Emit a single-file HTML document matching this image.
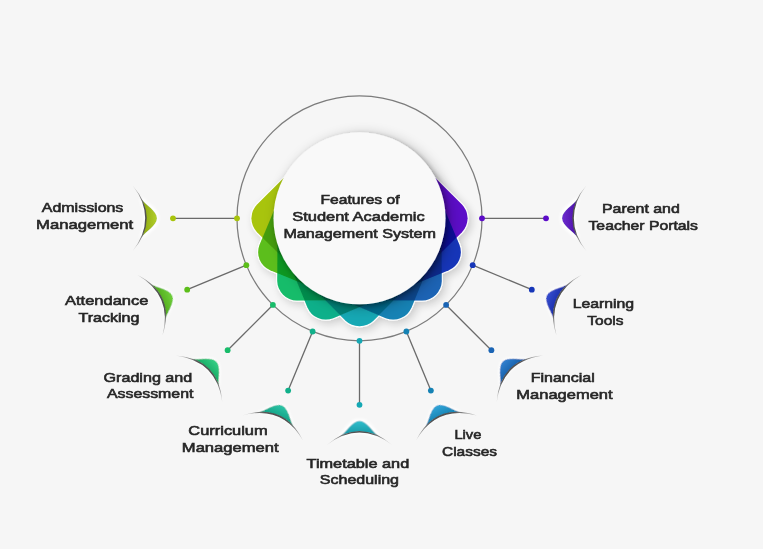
<!DOCTYPE html>
<html><head><meta charset="utf-8"><style>
html,body{margin:0;padding:0;background:#f6f6f6;}
svg{display:block;will-change:transform;filter:blur(0.35px);}
text{font-family:"Liberation Sans",sans-serif;font-weight:normal;font-size:13.3px;fill:#262626;stroke:#262626;stroke-width:0.6px;}
</style></head><body>
<svg width="763" height="549" viewBox="0 0 763 549">
<defs><filter id="sh" x="-30%" y="-30%" width="160%" height="160%"><feGaussianBlur in="SourceAlpha" stdDeviation="2.5" result="b1"/><feOffset in="b1" dx="1.8" dy="1.8" result="o1"/><feComponentTransfer in="o1" result="s1"><feFuncA type="linear" slope="0.32"/></feComponentTransfer><feGaussianBlur in="SourceAlpha" stdDeviation="7" result="b2"/><feOffset in="b2" dx="4" dy="3" result="o2"/><feComponentTransfer in="o2" result="s2"><feFuncA type="linear" slope="0.27"/></feComponentTransfer><feMerge><feMergeNode in="s2"/><feMergeNode in="s1"/><feMergeNode in="SourceGraphic"/></feMerge></filter><filter id="psh" x="-30%" y="-30%" width="160%" height="160%"><feGaussianBlur in="SourceAlpha" stdDeviation="4"/><feOffset dx="3" dy="3"/><feComponentTransfer><feFuncA type="linear" slope="0.18"/></feComponentTransfer><feMerge><feMergeNode/><feMergeNode in="SourceGraphic"/></feMerge></filter><filter id="glow" x="-50%" y="-50%" width="200%" height="200%"><feMorphology in="SourceAlpha" operator="dilate" radius="1.5" result="d"/><feGaussianBlur in="d" stdDeviation="1.2" result="db"/><feFlood flood-color="#ffffff" flood-opacity="0.9"/><feComposite in2="db" operator="in" result="g"/><feMerge><feMergeNode in="g"/><feMergeNode in="SourceGraphic"/></feMerge></filter><linearGradient id="arcg" x1="0" y1="-33" x2="0" y2="33" gradientUnits="userSpaceOnUse"><stop offset="0" stop-color="#999" stop-opacity="0.4"/><stop offset="0.12" stop-color="#888" stop-opacity="0.8"/><stop offset="0.3" stop-color="#555" stop-opacity="1"/><stop offset="0.5" stop-color="#505050" stop-opacity="1"/><stop offset="0.7" stop-color="#555" stop-opacity="1"/><stop offset="0.88" stop-color="#888" stop-opacity="0.8"/><stop offset="1" stop-color="#999" stop-opacity="0.4"/></linearGradient><linearGradient id="lg0" x1="7" y1="0" x2="22" y2="0" gradientUnits="userSpaceOnUse"><stop offset="0" stop-color="#89a40d"/><stop offset="1" stop-color="#b2ce2c"/></linearGradient><linearGradient id="lg1" x1="7" y1="0" x2="22" y2="0" gradientUnits="userSpaceOnUse"><stop offset="0" stop-color="#4ba418"/><stop offset="1" stop-color="#6fce39"/></linearGradient><linearGradient id="lg2" x1="7" y1="0" x2="22" y2="0" gradientUnits="userSpaceOnUse"><stop offset="0" stop-color="#13a45f"/><stop offset="1" stop-color="#33ce84"/></linearGradient><linearGradient id="lg3" x1="7" y1="0" x2="22" y2="0" gradientUnits="userSpaceOnUse"><stop offset="0" stop-color="#0d9a7e"/><stop offset="1" stop-color="#2cc4a6"/></linearGradient><linearGradient id="lg4" x1="7" y1="0" x2="22" y2="0" gradientUnits="userSpaceOnUse"><stop offset="0" stop-color="#1293a0"/><stop offset="1" stop-color="#31bdcb"/></linearGradient><linearGradient id="lg5" x1="7" y1="0" x2="22" y2="0" gradientUnits="userSpaceOnUse"><stop offset="0" stop-color="#127cac"/><stop offset="1" stop-color="#31a4d7"/></linearGradient><linearGradient id="lg6" x1="7" y1="0" x2="22" y2="0" gradientUnits="userSpaceOnUse"><stop offset="0" stop-color="#125aa4"/><stop offset="1" stop-color="#317fce"/></linearGradient><linearGradient id="lg7" x1="7" y1="0" x2="22" y2="0" gradientUnits="userSpaceOnUse"><stop offset="0" stop-color="#152aa4"/><stop offset="1" stop-color="#354cce"/></linearGradient><linearGradient id="lg8" x1="7" y1="0" x2="22" y2="0" gradientUnits="userSpaceOnUse"><stop offset="0" stop-color="#490da4"/><stop offset="1" stop-color="#6d2cce"/></linearGradient></defs>
<rect width="763" height="549" fill="#f6f6f6"/>
<circle cx="359.5" cy="218.3" r="122.5" fill="none" stroke="#7c7c7c" stroke-width="1.25"/><line x1="237.00" y1="218.30" x2="173.00" y2="218.30" stroke="#6a6a6a" stroke-width="1.3"/><line x1="246.32" y1="265.18" x2="187.20" y2="289.67" stroke="#6a6a6a" stroke-width="1.3"/><line x1="272.88" y1="304.92" x2="227.62" y2="350.18" stroke="#6a6a6a" stroke-width="1.3"/><line x1="312.62" y1="331.48" x2="288.13" y2="390.60" stroke="#6a6a6a" stroke-width="1.3"/><line x1="359.50" y1="340.80" x2="359.50" y2="404.80" stroke="#6a6a6a" stroke-width="1.3"/><line x1="406.38" y1="331.48" x2="430.87" y2="390.60" stroke="#6a6a6a" stroke-width="1.3"/><line x1="446.12" y1="304.92" x2="491.38" y2="350.18" stroke="#6a6a6a" stroke-width="1.3"/><line x1="472.68" y1="265.18" x2="531.80" y2="289.67" stroke="#6a6a6a" stroke-width="1.3"/><line x1="482.00" y1="218.30" x2="546.00" y2="218.30" stroke="#6a6a6a" stroke-width="1.3"/>
<g filter="url(#psh)"><g fill="none" stroke="#ffffff" stroke-width="2.2" opacity="0.9"><path d="M -45,71 L -13.9,102.4 A 20 20 0 0 0 13.9,102.4 L 45,71 L 0,50 Z" transform="translate(359.5,218.3) rotate(90)"/><path d="M -45,71 L -13.9,102.4 A 20 20 0 0 0 13.9,102.4 L 45,71 L 0,50 Z" transform="translate(359.5,218.3) rotate(67.5)"/><path d="M -45,71 L -13.9,102.4 A 20 20 0 0 0 13.9,102.4 L 45,71 L 0,50 Z" transform="translate(359.5,218.3) rotate(45)"/><path d="M -45,71 L -13.9,102.4 A 20 20 0 0 0 13.9,102.4 L 45,71 L 0,50 Z" transform="translate(359.5,218.3) rotate(22.5)"/><path d="M -45,71 L -13.9,102.4 A 20 20 0 0 0 13.9,102.4 L 45,71 L 0,50 Z" transform="translate(359.5,218.3) rotate(-90)"/><path d="M -45,71 L -13.9,102.4 A 20 20 0 0 0 13.9,102.4 L 45,71 L 0,50 Z" transform="translate(359.5,218.3) rotate(-67.5)"/><path d="M -45,71 L -13.9,102.4 A 20 20 0 0 0 13.9,102.4 L 45,71 L 0,50 Z" transform="translate(359.5,218.3) rotate(-45)"/><path d="M -45,71 L -13.9,102.4 A 20 20 0 0 0 13.9,102.4 L 45,71 L 0,50 Z" transform="translate(359.5,218.3) rotate(-22.5)"/><path d="M -45,71 L -13.9,102.4 A 20 20 0 0 0 13.9,102.4 L 45,71 L 0,50 Z" transform="translate(359.5,218.3) rotate(0)"/></g><g style="isolation:isolate"><path d="M -45,71 L -13.9,102.4 A 20 20 0 0 0 13.9,102.4 L 45,71 L 0,50 Z" fill="#a8c40c" transform="translate(359.5,218.3) rotate(90)" style="mix-blend-mode:multiply"/><path d="M -45,71 L -13.9,102.4 A 20 20 0 0 0 13.9,102.4 L 45,71 L 0,50 Z" fill="#5cbe1a" transform="translate(359.5,218.3) rotate(67.5)" style="mix-blend-mode:multiply"/><path d="M -45,71 L -13.9,102.4 A 20 20 0 0 0 13.9,102.4 L 45,71 L 0,50 Z" fill="#18bc6a" transform="translate(359.5,218.3) rotate(45)" style="mix-blend-mode:multiply"/><path d="M -45,71 L -13.9,102.4 A 20 20 0 0 0 13.9,102.4 L 45,71 L 0,50 Z" fill="#10b08a" transform="translate(359.5,218.3) rotate(22.5)" style="mix-blend-mode:multiply"/><path d="M -45,71 L -13.9,102.4 A 20 20 0 0 0 13.9,102.4 L 45,71 L 0,50 Z" fill="#5c0cc8" transform="translate(359.5,218.3) rotate(-90)" style="mix-blend-mode:multiply"/><path d="M -45,71 L -13.9,102.4 A 20 20 0 0 0 13.9,102.4 L 45,71 L 0,50 Z" fill="#1636b8" transform="translate(359.5,218.3) rotate(-67.5)" style="mix-blend-mode:multiply"/><path d="M -45,71 L -13.9,102.4 A 20 20 0 0 0 13.9,102.4 L 45,71 L 0,50 Z" fill="#1a64b4" transform="translate(359.5,218.3) rotate(-45)" style="mix-blend-mode:multiply"/><path d="M -45,71 L -13.9,102.4 A 20 20 0 0 0 13.9,102.4 L 45,71 L 0,50 Z" fill="#1582b4" transform="translate(359.5,218.3) rotate(-22.5)" style="mix-blend-mode:multiply"/><path d="M -45,71 L -13.9,102.4 A 20 20 0 0 0 13.9,102.4 L 45,71 L 0,50 Z" fill="#14a8b4" transform="translate(359.5,218.3) rotate(0)" style="mix-blend-mode:multiply"/></g><g opacity="0.25"><path d="M -45,71 L -13.9,102.4 A 20 20 0 0 0 13.9,102.4 L 45,71 L 0,50 Z" fill="#a8c40c" transform="translate(359.5,218.3) rotate(90)"/><path d="M -45,71 L -13.9,102.4 A 20 20 0 0 0 13.9,102.4 L 45,71 L 0,50 Z" fill="#5cbe1a" transform="translate(359.5,218.3) rotate(67.5)"/><path d="M -45,71 L -13.9,102.4 A 20 20 0 0 0 13.9,102.4 L 45,71 L 0,50 Z" fill="#18bc6a" transform="translate(359.5,218.3) rotate(45)"/><path d="M -45,71 L -13.9,102.4 A 20 20 0 0 0 13.9,102.4 L 45,71 L 0,50 Z" fill="#10b08a" transform="translate(359.5,218.3) rotate(22.5)"/><path d="M -45,71 L -13.9,102.4 A 20 20 0 0 0 13.9,102.4 L 45,71 L 0,50 Z" fill="#5c0cc8" transform="translate(359.5,218.3) rotate(-90)"/><path d="M -45,71 L -13.9,102.4 A 20 20 0 0 0 13.9,102.4 L 45,71 L 0,50 Z" fill="#1636b8" transform="translate(359.5,218.3) rotate(-67.5)"/><path d="M -45,71 L -13.9,102.4 A 20 20 0 0 0 13.9,102.4 L 45,71 L 0,50 Z" fill="#1a64b4" transform="translate(359.5,218.3) rotate(-45)"/><path d="M -45,71 L -13.9,102.4 A 20 20 0 0 0 13.9,102.4 L 45,71 L 0,50 Z" fill="#1582b4" transform="translate(359.5,218.3) rotate(-22.5)"/><path d="M -45,71 L -13.9,102.4 A 20 20 0 0 0 13.9,102.4 L 45,71 L 0,50 Z" fill="#14a8b4" transform="translate(359.5,218.3) rotate(0)"/></g></g>
<circle cx="359.5" cy="218.3" r="86" fill="#f9f9f9" filter="url(#sh)"/>
<circle cx="237.00" cy="218.30" r="2.9" fill="#a8c40c"/><circle cx="173.00" cy="218.30" r="2.9" fill="#a8c40c"/><circle cx="246.32" cy="265.18" r="2.9" fill="#5cbe1a"/><circle cx="187.20" cy="289.67" r="2.9" fill="#5cbe1a"/><circle cx="272.88" cy="304.92" r="2.9" fill="#18bc6a"/><circle cx="227.62" cy="350.18" r="2.9" fill="#18bc6a"/><circle cx="312.62" cy="331.48" r="2.9" fill="#10b08a"/><circle cx="288.13" cy="390.60" r="2.9" fill="#10b08a"/><circle cx="359.50" cy="340.80" r="2.9" fill="#14a8b4"/><circle cx="359.50" cy="404.80" r="2.9" fill="#14a8b4"/><circle cx="406.38" cy="331.48" r="2.9" fill="#1582b4"/><circle cx="430.87" cy="390.60" r="2.9" fill="#1582b4"/><circle cx="446.12" cy="304.92" r="2.9" fill="#1a64b4"/><circle cx="491.38" cy="350.18" r="2.9" fill="#1a64b4"/><circle cx="472.68" cy="265.18" r="2.9" fill="#1636b8"/><circle cx="531.80" cy="289.67" r="2.9" fill="#1636b8"/><circle cx="482.00" cy="218.30" r="2.9" fill="#5c0cc8"/><circle cx="546.00" cy="218.30" r="2.9" fill="#5c0cc8"/>
<g transform="translate(134.50,218.30) rotate(360)"><path d="M 7.05,-19 C 11,-13.5 22.5,-7.5 22.5,0 C 22.5,7.5 11,13.5 7.05,19 Q 15.55,0 7.05,-19 Z" fill="url(#lg0)" filter="url(#glow)"/><path d="M -2,-33 Q 26.6,0 -2,33 Q 23.4,0 -2,-33 Z" fill="url(#arcg)"/></g><g transform="translate(151.63,304.40) rotate(337.5)"><path d="M 7.05,-19 C 11,-13.5 22.5,-7.5 22.5,0 C 22.5,7.5 11,13.5 7.05,19 Q 15.55,0 7.05,-19 Z" fill="url(#lg1)" filter="url(#glow)"/><path d="M -2,-33 Q 26.6,0 -2,33 Q 23.4,0 -2,-33 Z" fill="url(#arcg)"/></g><g transform="translate(200.40,377.40) rotate(315)"><path d="M 7.05,-19 C 11,-13.5 22.5,-7.5 22.5,0 C 22.5,7.5 11,13.5 7.05,19 Q 15.55,0 7.05,-19 Z" fill="url(#lg2)" filter="url(#glow)"/><path d="M -2,-33 Q 26.6,0 -2,33 Q 23.4,0 -2,-33 Z" fill="url(#arcg)"/></g><g transform="translate(273.40,426.17) rotate(292.5)"><path d="M 7.05,-19 C 11,-13.5 22.5,-7.5 22.5,0 C 22.5,7.5 11,13.5 7.05,19 Q 15.55,0 7.05,-19 Z" fill="url(#lg3)" filter="url(#glow)"/><path d="M -2,-33 Q 26.6,0 -2,33 Q 23.4,0 -2,-33 Z" fill="url(#arcg)"/></g><g transform="translate(359.50,443.30) rotate(270)"><path d="M 7.05,-19 C 11,-13.5 22.5,-7.5 22.5,0 C 22.5,7.5 11,13.5 7.05,19 Q 15.55,0 7.05,-19 Z" fill="url(#lg4)" filter="url(#glow)"/><path d="M -2,-33 Q 26.6,0 -2,33 Q 23.4,0 -2,-33 Z" fill="url(#arcg)"/></g><g transform="translate(445.60,426.17) rotate(247.5)"><path d="M 7.05,-19 C 11,-13.5 22.5,-7.5 22.5,0 C 22.5,7.5 11,13.5 7.05,19 Q 15.55,0 7.05,-19 Z" fill="url(#lg5)" filter="url(#glow)"/><path d="M -2,-33 Q 26.6,0 -2,33 Q 23.4,0 -2,-33 Z" fill="url(#arcg)"/></g><g transform="translate(518.60,377.40) rotate(225)"><path d="M 7.05,-19 C 11,-13.5 22.5,-7.5 22.5,0 C 22.5,7.5 11,13.5 7.05,19 Q 15.55,0 7.05,-19 Z" fill="url(#lg6)" filter="url(#glow)"/><path d="M -2,-33 Q 26.6,0 -2,33 Q 23.4,0 -2,-33 Z" fill="url(#arcg)"/></g><g transform="translate(567.37,304.40) rotate(202.5)"><path d="M 7.05,-19 C 11,-13.5 22.5,-7.5 22.5,0 C 22.5,7.5 11,13.5 7.05,19 Q 15.55,0 7.05,-19 Z" fill="url(#lg7)" filter="url(#glow)"/><path d="M -2,-33 Q 26.6,0 -2,33 Q 23.4,0 -2,-33 Z" fill="url(#arcg)"/></g><g transform="translate(584.50,218.30) rotate(180)"><path d="M 7.05,-19 C 11,-13.5 22.5,-7.5 22.5,0 C 22.5,7.5 11,13.5 7.05,19 Q 15.55,0 7.05,-19 Z" fill="url(#lg8)" filter="url(#glow)"/><path d="M -2,-33 Q 26.6,0 -2,33 Q 23.4,0 -2,-33 Z" fill="url(#arcg)"/></g>
<text x="82.6" y="212.1" text-anchor="middle" textLength="81.5" lengthAdjust="spacingAndGlyphs">Admissions</text><text x="84.6" y="229.1" text-anchor="middle" textLength="97.0" lengthAdjust="spacingAndGlyphs">Management</text><text x="106.7" y="305.0" text-anchor="middle" textLength="83.4" lengthAdjust="spacingAndGlyphs">Attendance</text><text x="108.9" y="321.7" text-anchor="middle" textLength="60.9" lengthAdjust="spacingAndGlyphs">Tracking</text><text x="147.9" y="381.8" text-anchor="middle" textLength="88.8" lengthAdjust="spacingAndGlyphs">Grading and</text><text x="150.2" y="397.9" text-anchor="middle" textLength="86.5" lengthAdjust="spacingAndGlyphs">Assessment</text><text x="228.0" y="434.9" text-anchor="middle" textLength="79.4" lengthAdjust="spacingAndGlyphs">Curriculum</text><text x="230.2" y="451.9" text-anchor="middle" textLength="96.7" lengthAdjust="spacingAndGlyphs">Management</text><text x="357.9" y="467.9" text-anchor="middle" textLength="102.7" lengthAdjust="spacingAndGlyphs">Timetable and</text><text x="359.4" y="484.4" text-anchor="middle" textLength="79.2" lengthAdjust="spacingAndGlyphs">Scheduling</text><text x="467.9" y="439.0" text-anchor="middle" textLength="27.0" lengthAdjust="spacingAndGlyphs">Live</text><text x="469.5" y="455.8" text-anchor="middle" textLength="55.0" lengthAdjust="spacingAndGlyphs">Classes</text><text x="562.7" y="382.1" text-anchor="middle" textLength="64.1" lengthAdjust="spacingAndGlyphs">Financial</text><text x="564.5" y="398.6" text-anchor="middle" textLength="96.3" lengthAdjust="spacingAndGlyphs">Management</text><text x="603.4" y="308.4" text-anchor="middle" textLength="61.5" lengthAdjust="spacingAndGlyphs">Learning</text><text x="605.4" y="325.1" text-anchor="middle" textLength="36.2" lengthAdjust="spacingAndGlyphs">Tools</text><text x="640.9" y="213.1" text-anchor="middle" textLength="77.9" lengthAdjust="spacingAndGlyphs">Parent and</text><text x="643.2" y="229.9" text-anchor="middle" textLength="109.4" lengthAdjust="spacingAndGlyphs">Teacher Portals</text>
<text x="360.0" y="203.8" text-anchor="middle" textLength="79.0" lengthAdjust="spacingAndGlyphs">Features of</text><text x="358.5" y="221.2" text-anchor="middle" textLength="132.5" lengthAdjust="spacingAndGlyphs">Student Academic</text><text x="359.7" y="238.0" text-anchor="middle" textLength="152.6" lengthAdjust="spacingAndGlyphs">Management System</text>
</svg>
</body></html>
